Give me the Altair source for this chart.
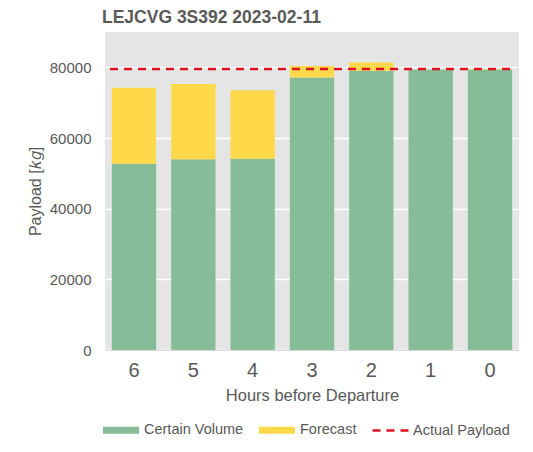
import altair as alt
import pandas as pd

# ---- data ----
hours = ["6", "5", "4", "3", "2", "1", "0"]
certain_volume = [52700, 54000, 54100, 77100, 79000, 79300, 79300]
forecast = [21500, 21300, 19400, 3300, 2400, 0, 150]
actual_payload = 79500
y_ticks = [0, 20000, 40000, 60000, 80000]

series_names = ["Certain Volume", "Forecast"]
bar_colors = ["#86BC98", "#FFD94A"]
line_color = "#DD1122"
text_color = "#595959"
FONT = "Liberation Sans"

rows = []
for h, c, f in zip(hours, certain_volume, forecast):
    rows.append({"hour": h, "series": "Certain Volume", "order": 0, "value": c})
    rows.append({"hour": h, "series": "Forecast", "order": 1, "value": f})
bars_df = pd.DataFrame(rows)
line_df = pd.DataFrame({"series": ["Actual Payload"], "value": [actual_payload]})

W, H = 414, 318

x_enc = alt.X(
    "hour:N",
    sort=hours,
    scale=alt.Scale(paddingInner=0.253, paddingOuter=0.115),
    axis=alt.Axis(
        title="Hours before Departure",
        labelAngle=0,
        labelFontSize=20,
        labelColor=text_color,
        labelFont=FONT,
        labelPadding=10,
        titleFontSize=16.5,
        titleFont=FONT,
        titleColor=text_color,
        titleFontWeight="normal",
        titlePadding=7,
        ticks=False,
        domain=True,
        domainColor="#D9D9D9",
        grid=False,
    ),
)

y_scale = alt.Scale(domain=[0, 90000], nice=False)

bars = alt.Chart(bars_df).mark_bar().encode(
    x=x_enc,
    y=alt.Y(
        "value:Q",
        stack="zero",
        scale=y_scale,
        axis=alt.Axis(
            title="Payload [𝑘𝑔]",
            values=y_ticks,
            labelFontSize=15,
            labelColor=text_color,
            labelFont=FONT,
            labelPadding=14,
            titleFontSize=16,
            titleFont=FONT,
            titleColor=text_color,
            titleFontWeight="normal",
            titlePadding=6,
            ticks=False,
            domain=False,
            grid=True,
            gridColor="#FFFFFF",
            gridWidth=1.6,
            format="d",
        ),
    ),
    color=alt.Color(
        "series:N",
        scale=alt.Scale(domain=series_names, range=bar_colors),
        legend=alt.Legend(
            title=None,
            orient="none",
            legendX=-2,
            legendY=380,
            direction="horizontal",
            symbolType="M-1,-0.2 L1,-0.2 L1,0.2 L-1,0.2 Z",
            symbolSize=1296,
            symbolStrokeWidth=0,
            labelFontSize=14.5,
            labelFont=FONT,
            labelColor=text_color,
            labelOffset=5,
            columnPadding=15,
        ),
    ),
    order=alt.Order("order:Q"),
)

rule = alt.Chart(line_df).mark_rule(
    color=line_color, strokeWidth=2.5
).encode(
    y=alt.Y("value:Q", scale=y_scale),
    x=alt.value(5),
    x2=alt.value(W - 5),
    strokeDash=alt.StrokeDash(
        "series:N",
        scale=alt.Scale(domain=["Actual Payload"], range=[[8, 6]]),
        legend=alt.Legend(
            title=None,
            orient="none",
            legendX=266,
            legendY=378,
            direction="horizontal",
            symbolType="stroke",
            symbolSize=1444,
            symbolStrokeColor=line_color,
            symbolStrokeWidth=2.5,
            labelFontSize=14.5,
            labelFont=FONT,
            labelColor=text_color,
            labelOffset=1,
        ),
    ),
)

chart = (
    alt.layer(bars, rule)
    .resolve_legend(color="independent", strokeDash="independent")
    .properties(
        width=W,
        height=H,
        title=alt.TitleParams(
            "LEJCVG 3S392 2023-02-11",
            anchor="start",
            frame="group",
            dx=-3,
            fontSize=17.5,
            fontWeight="bold",
            color=text_color,
            font=FONT,
            offset=6,
        ),
        padding={"left": 19, "top": 0, "right": 5, "bottom": 5},
    )
    .configure_view(fill="#E5E5E5", strokeWidth=0)
)

chart.save("out.html", embed_options={"renderer": "svg", "actions": False})
